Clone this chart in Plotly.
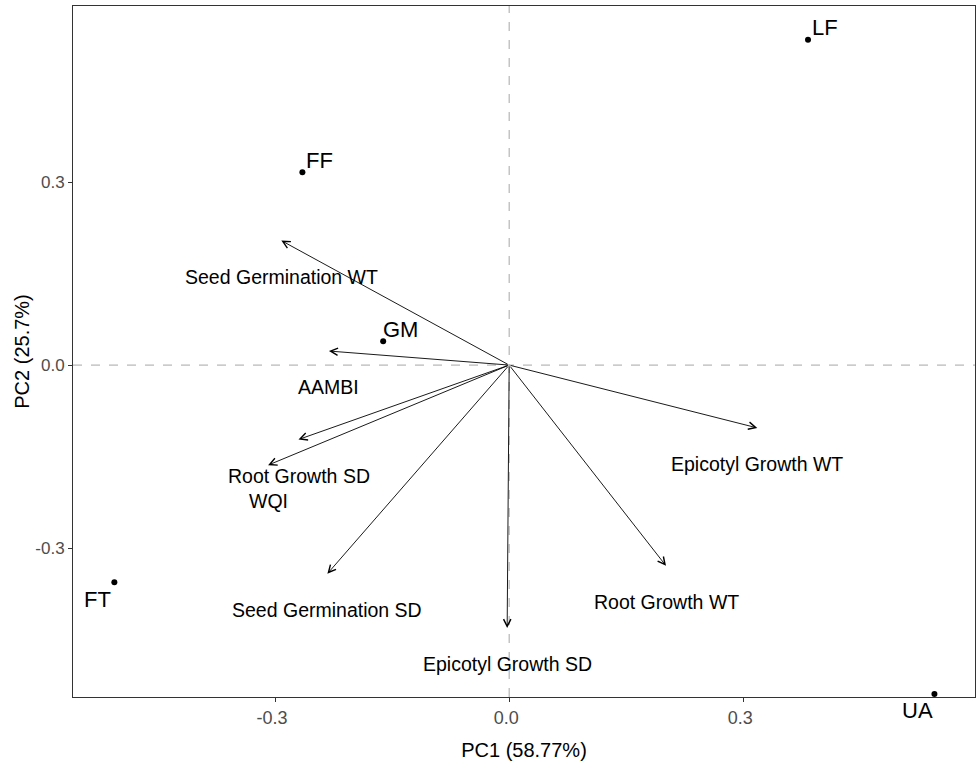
import plotly.graph_objects as go

# Sample scores
site_names = ["LF", "FF", "GM", "FT", "UA"]
site_pc1 = [0.383, -0.265, -0.1615, -0.506, 0.545]
site_pc2 = [0.533, 0.316, 0.039, -0.356, -0.539]
site_label_side = ["up", "up", "up", "down", "down"]

# Variable loadings (arrows)
var_names = ["Seed Germination WT", "AAMBI", "Root Growth SD", "WQI",
             "Seed Germination SD", "Epicotyl Growth SD", "Root Growth WT",
             "Epicotyl Growth WT"]
var_pc1 = [-0.292, -0.231, -0.270, -0.309, -0.233, -0.0026, 0.201, 0.318]
var_pc2 = [0.204, 0.023, -0.122, -0.164, -0.342, -0.431, -0.329, -0.103]

x_ticks = [-0.3, 0.0, 0.3]
y_ticks = [-0.3, 0.0, 0.3]

FONT = "Liberation Sans, Arial, sans-serif"

fig = go.Figure()

fig.add_trace(go.Scatter(
    x=site_pc1, y=site_pc2, mode="markers",
    marker=dict(color="black", size=6),
    hoverinfo="text", text=site_names, showlegend=False))

annotations = []
for n, x, y, side in zip(site_names, site_pc1, site_pc2, site_label_side):
    if side == "up":
        xs, ys = 17, 12
    else:
        xs, ys = -17, -17
    annotations.append(dict(x=x, y=y, xref="x", yref="y", text=n, showarrow=False,
                            xshift=xs, yshift=ys, xanchor="center", yanchor="middle",
                            font=dict(family=FONT, size=22, color="black")))

for n, x, y in zip(var_names, var_pc1, var_pc2):
    annotations.append(dict(x=x, y=y, xref="x", yref="y", ax=0, ay=0,
                            axref="x", ayref="y", text="", showarrow=True,
                            arrowhead=5, arrowsize=1.6, arrowwidth=0.9,
                            arrowcolor="black"))
    annotations.append(dict(x=x, y=y, xref="x", yref="y", text=n, showarrow=False,
                            yshift=-36, xanchor="center", yanchor="middle",
                            font=dict(family=FONT, size=19.5, color="black")))

fig.update_layout(
    width=976, height=774,
    margin=dict(l=73, r=1, t=6, b=77, autoexpand=False),
    paper_bgcolor="white", plot_bgcolor="white",
    annotations=annotations,
    shapes=[
        dict(type="line", xref="x", yref="paper", x0=0, x1=0, y0=0, y1=1,
             line=dict(color="#A6A6A6", width=1, dash="dash"), layer="below"),
        dict(type="line", xref="paper", yref="y", x0=0, x1=1, y0=0, y1=0,
             line=dict(color="#A6A6A6", width=1, dash="dash"), layer="below"),
    ],
    xaxis=dict(range=[-0.559, 0.597], tickvals=x_ticks, ticktext=["-0.3", "0.0", "0.3"],
               showgrid=False, zeroline=False, showline=True, mirror=True,
               linecolor="#333333", linewidth=1, ticks="outside", ticklen=4,
               tickcolor="#333333", ticklabelshift=-3,
               tickfont=dict(family=FONT, size=18, color="#4D4D4D"),
               title=dict(text="PC1 (58.77%)", standoff=16,
                          font=dict(family=FONT, size=20, color="black"))),
    yaxis=dict(range=[-0.544, 0.5885], tickvals=y_ticks, ticktext=["-0.3", "0.0", "0.3"],
               showgrid=False, zeroline=False, showline=True, mirror=True,
               linecolor="#333333", linewidth=1, ticks="outside", ticklen=4,
               tickcolor="#333333",
               tickfont=dict(family=FONT, size=17, color="#4D4D4D"),
               title=dict(text="PC2 (25.7%)", standoff=0,
                          font=dict(family=FONT, size=20, color="black"))),
)

post = ("document.body.style.margin='0';"
        "document.body.style.padding='0';"
        "document.body.style.overflow='hidden';"
        "document.documentElement.style.overflow='hidden';")

fig.write_html("out.html", post_script=post,
               config={"responsive": False, "displayModeBar": False})
